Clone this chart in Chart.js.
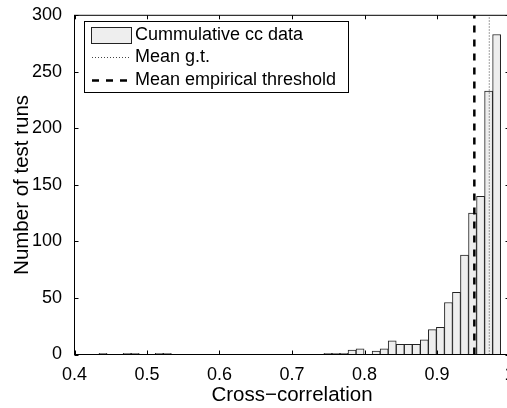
<!DOCTYPE html>
<html>
<head>
<meta charset="utf-8">
<script src="https://cdn.jsdelivr.net/npm/chart.js"></script>
<style>
  html, body { margin: 0; padding: 0; background: #fff; overflow: hidden; }
  #wrap { position: absolute; left: 0; top: 0; width: 520px; height: 408px; }
</style>
</head>
<body>
<div id="wrap"><canvas id="ccHist" width="520" height="408"></canvas></div>
<script>
// --- data ---
// bin centres of the 50-bin histogram
var binCenters = [
  0.43934, 0.45042, 0.46150, 0.47258, 0.48366, 0.49474, 0.50582, 0.51690, 0.52798, 0.53906,
  0.55014, 0.56122, 0.57230, 0.58338, 0.59446, 0.60554, 0.61662, 0.62770, 0.63878, 0.64986,
  0.66094, 0.67202, 0.68310, 0.69418, 0.70526, 0.71634, 0.72742, 0.73850, 0.74958, 0.76066,
  0.77174, 0.78282, 0.79390, 0.80498, 0.81606, 0.82714, 0.83822, 0.84930, 0.86038, 0.87146,
  0.88254, 0.89362, 0.90470, 0.91578, 0.92686, 0.93794, 0.94902, 0.96010, 0.97118, 0.98226
];
// number of test runs in each bin
var binCounts = [
  1, 0, 0, 1, 1, 0, 0, 1, 1, 0,
  0, 0, 0, 0, 0, 0, 0, 0, 0, 0,
  0, 0, 0, 0, 0, 0, 0, 0, 1, 1,
  1, 4, 5, 0, 3, 5, 12, 9, 9, 9,
  13, 22, 24, 46, 55, 88, 125, 140, 233, 283
];
var meanGt = 0.9721;
var meanThreshold = 0.9515;

var xTickValues = [0.4, 0.5, 0.6, 0.7, 0.8, 0.9, 1.0];
var xTickLabels = ['0.4', '0.5', '0.6', '0.7', '0.8', '0.9', '1'];
var yTickValues = [0, 50, 100, 150, 200, 250, 300];
var yTickLabels = ['0', '50', '100', '150', '200', '250', '300'];

var seriesLabels = ['Cummulative cc data', 'Mean g.t.', 'Mean empirical threshold'];

Chart.defaults.font.family = "'Liberation Sans', Arial, sans-serif";
Chart.defaults.color = '#000';

// box round the axes, inward ticks on all four sides, and the legend inside the plot
var frameAndLegend = {
  id: 'frameAndLegend',
  afterDraw: function (chart) {
    var ctx = chart.ctx;
    var a = chart.chartArea;
    var xs = chart.scales.x;
    var ys = chart.scales.y;
    ctx.save();
    ctx.strokeStyle = '#000';
    ctx.lineWidth = 1;
    ctx.strokeRect(a.left, a.top, a.right - a.left, a.bottom - a.top);
    ctx.beginPath();
    xTickValues.forEach(function (v) {
      var px = Math.round(xs.getPixelForValue(v)) + 0.5;
      ctx.moveTo(px, a.bottom); ctx.lineTo(px, a.bottom - 4);
      ctx.moveTo(px, a.top); ctx.lineTo(px, a.top + 4);
    });
    yTickValues.forEach(function (v) {
      var py = Math.round(ys.getPixelForValue(v)) + 0.5;
      ctx.moveTo(a.left, py); ctx.lineTo(a.left + 4, py);
      ctx.moveTo(a.right, py); ctx.lineTo(a.right - 4, py);
    });
    ctx.stroke();

    // legend
    var ds = chart.data.datasets;
    ctx.fillStyle = '#fff';
    ctx.fillRect(84.5, 21.5, 264, 71);
    ctx.strokeRect(84.5, 21.5, 264, 71);
    var rows = [35, 57, 80];
    // patch sample
    ctx.fillStyle = ds[0].backgroundColor;
    ctx.fillRect(91.5, 27.5, 40, 16);
    ctx.strokeStyle = ds[0].borderColor;
    ctx.strokeRect(91.5, 27.5, 40, 16);
    // line samples
    [1, 2].forEach(function (i) {
      ctx.beginPath();
      ctx.strokeStyle = ds[i].borderColor;
      ctx.lineWidth = ds[i].borderWidth;
      ctx.setLineDash(ds[i].borderDash);
      ctx.moveTo(92, rows[i] + 0.5);
      ctx.lineTo(131, rows[i] + 0.5);
      ctx.stroke();
    });
    ctx.setLineDash([]);
    ctx.fillStyle = '#000';
    ctx.font = "18px 'Liberation Sans', Arial, sans-serif";
    ctx.textBaseline = 'middle';
    ctx.textAlign = 'left';
    for (var i = 0; i < 3; i++) {
      ctx.fillText(ds[i].label, 135, rows[i]);
    }
    ctx.restore();
  }
};

var ctx = document.getElementById('ccHist').getContext('2d');
new Chart(ctx, {
  type: 'bar',
  data: {
    datasets: [
      {
        type: 'bar',
        label: seriesLabels[0],
        data: binCenters.map(function (x, i) { return { x: x, y: binCounts[i] }; }),
        backgroundColor: '#eeeeee',
        borderColor: '#222222',
        borderWidth: 1,
        barPercentage: 1,
        categoryPercentage: 1,
        order: 2
      },
      {
        type: 'line',
        label: seriesLabels[1],
        data: [{ x: meanGt, y: 0 }, { x: meanGt, y: 300 }],
        borderColor: '#444444',
        borderWidth: 1,
        borderDash: [1, 2],
        pointRadius: 0,
        fill: false,
        order: 1
      },
      {
        type: 'line',
        label: seriesLabels[2],
        data: [{ x: meanThreshold, y: 0 }, { x: meanThreshold, y: 300 }],
        borderColor: '#000000',
        borderWidth: 2.5,
        borderDash: [7, 7],
        pointRadius: 0,
        fill: false,
        order: 0
      }
    ]
  },
  options: {
    responsive: false,
    animation: false,
    devicePixelRatio: 1,
    layout: { padding: { left: 0, top: 14.5, right: 10.5, bottom: 0 } },
    scales: {
      x: {
        type: 'linear',
        offset: false,
        min: 0.4,
        max: 1.0,
        grid: { display: false },
        border: { display: false },
        afterBuildTicks: function (scale) {
          scale.ticks = xTickValues.map(function (v) { return { value: v }; });
        },
        afterFit: function (scale) { scale.height = 53.5; },
        ticks: {
          autoSkip: false,
          maxRotation: 0,
          padding: 1.5,
          font: { size: 18 },
          callback: function (v) {
            var k = xTickValues.indexOf(v);
            return k >= 0 ? xTickLabels[k] : '';
          }
        },
        title: {
          display: true,
          text: 'Cross\u2212correlation',
          font: { size: 20.5 },
          padding: { top: 0, bottom: 0.5 }
        }
      },
      y: {
        type: 'linear',
        min: 0,
        max: 300,
        grid: { display: false },
        border: { display: false },
        afterBuildTicks: function (scale) {
          scale.ticks = yTickValues.map(function (v) { return { value: v }; });
        },
        afterFit: function (scale) { scale.width = 74.5; },
        ticks: {
          autoSkip: false,
          padding: 4.5,
          font: { size: 18 },
          callback: function (v) {
            var k = yTickValues.indexOf(v);
            return k >= 0 ? yTickLabels[k] : '';
          }
        },
        title: {
          display: true,
          text: 'Number of test runs',
          font: { size: 20.5 },
          padding: { top: 10, bottom: 0 }
        }
      }
    },
    plugins: {
      legend: { display: false },
      tooltip: { enabled: false }
    }
  },
  plugins: [frameAndLegend]
});
</script>
</body>
</html>
